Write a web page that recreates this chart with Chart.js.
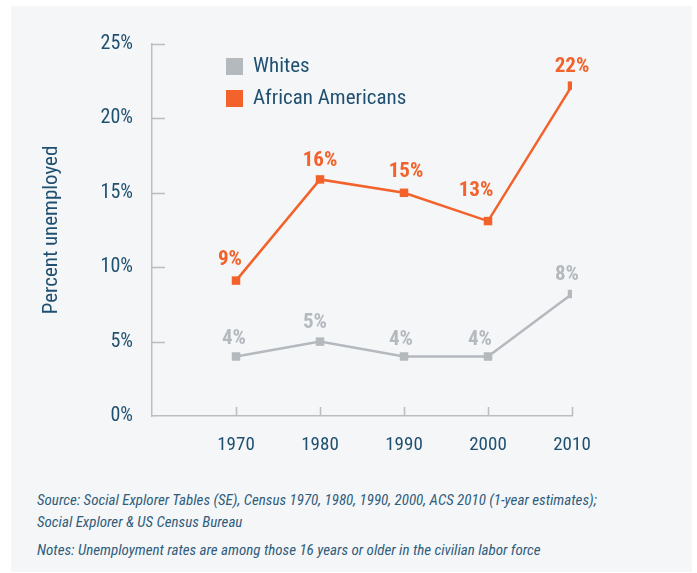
<!DOCTYPE html>
<html>
<head>
<meta charset="utf-8">
<script src="https://cdn.jsdelivr.net/npm/chart.js@4/dist/chart.umd.min.js"></script>
<style>
  html, body { margin: 0; padding: 0; background: #ffffff; width: 697px; height: 573px; overflow: hidden; }
  #panel { position: absolute; left: 11px; top: 6px; width: 681px; height: 566px; background: #f5f6f8; }
  #wrap { position: absolute; left: 0; top: 0; width: 697px; height: 470px; }
  .note {
    position: absolute; left: 37px; margin: 0;
    font-family: "Roboto Condensed", "Liberation Sans", sans-serif;
    font-style: italic; font-size: 15px; line-height: 22px; color: #2f5d7c;
    white-space: nowrap;
  }
</style>
</head>
<body>
<div id="panel"></div>
<div id="wrap"><canvas id="chart" width="697" height="470"></canvas></div>
<p class="note" style="top:489px">Source: Social Explorer Tables (SE), Census 1970, 1980, 1990, 2000, ACS 2010 (1-year estimates);<br>Social Explorer &amp; US Census Bureau</p>
<p class="note" style="top:539px">Notes: Unemployment rates are among those 16 years or older in the civilian labor force</p>
<script>
// данные
const years = [1970, 1980, 1990, 2000, 2010];
const whites = [4.0, 5.0, 4.0, 4.0, 8.2];
const africanAmericans = [9.1, 15.9, 15.0, 13.1, 22.2];
const whitesLabels = ['4%', '5%', '4%', '4%', '8%'];
const africanAmericansLabels = ['9%', '16%', '15%', '13%', '22%'];
const yTicks = [0, 5, 10, 15, 20, 25];

const FONT = '"Roboto Condensed", "Liberation Sans", sans-serif';
const BLUE = '#1f5070';
const ORANGE = '#f2622a';
const GRAY = '#b4b9be';
const AXIS = '#b9bec3';

// сдвиги подписей значений (dx, dy над точкой)
const labelShift = {
  0: [[-2, 18], [-5, 19], [-3, 17], [-8, 17], [-5, 19]],
  1: [[-6, 21], [0, 19], [2, 21], [-12, 30], [0, 19]]
};

const toPoints = (vals) => years.map((yr, i) => ({x: yr, y: vals[i]}));

// короткие засечки осей внутрь графика
const axisTicks = {
  id: 'axisTicks',
  afterDraw(chart) {
    const {ctx, scales: {x, y}} = chart;
    ctx.save();
    ctx.strokeStyle = AXIS;
    ctx.lineWidth = 1.5;
    ctx.beginPath();
    years.forEach(yr => {
      const px = Math.round(x.getPixelForValue(yr)) + 0.5;
      ctx.moveTo(px, y.bottom);
      ctx.lineTo(px, y.bottom - 9);
    });
    yTicks.slice(1).forEach(v => {
      const py = Math.round(y.getPixelForValue(v)) + 0.5;
      ctx.moveTo(x.left, py);
      ctx.lineTo(x.left + 13, py);
    });
    ctx.stroke();
    ctx.restore();
  }
};

// подписи значений над точками
const valueLabels = {
  id: 'valueLabels',
  afterDatasetsDraw(chart) {
    const {ctx} = chart;
    ctx.save();
    ctx.font = 'bold 21px ' + FONT;
    ctx.textAlign = 'center';
    ctx.textBaseline = 'middle';
    chart.data.datasets.forEach((ds, di) => {
      const meta = chart.getDatasetMeta(di);
      ctx.fillStyle = ds.borderColor;
      meta.data.forEach((pt, i) => {
        const [dx, dy] = labelShift[di][i];
        ctx.fillText(ds.valueText[i], pt.x + dx, pt.y - dy);
      });
    });
    ctx.restore();
  }
};

// легенда внутри области графика
const boxLegend = {
  id: 'boxLegend',
  afterDraw(chart) {
    const {ctx} = chart;
    ctx.save();
    ctx.font = '21px ' + FONT;
    ctx.textBaseline = 'middle';
    chart.data.datasets.forEach((ds, i) => {
      const top = 58 + i * 32;
      ctx.fillStyle = ds.borderColor;
      ctx.fillRect(226, top, 17, 17);
      ctx.fillStyle = BLUE;
      ctx.fillText(ds.label, 253, top + 9);
    });
    ctx.restore();
  }
};

new Chart(document.getElementById('chart'), {
  type: 'line',
  data: {
    datasets: [
      {
        label: 'Whites',
        data: toPoints(whites),
        valueText: whitesLabels,
        borderColor: GRAY,
        backgroundColor: GRAY,
        borderWidth: 2.5,
        pointStyle: 'rect',
        pointRadius: 6,
        pointBorderWidth: 0,
        tension: 0
      },
      {
        label: 'African Americans',
        data: toPoints(africanAmericans),
        valueText: africanAmericansLabels,
        borderColor: ORANGE,
        backgroundColor: ORANGE,
        borderWidth: 2.5,
        pointStyle: 'rect',
        pointRadius: 6,
        pointBorderWidth: 0,
        tension: 0
      }
    ]
  },
  options: {
    responsive: false,
    animation: false,
    layout: {padding: {top: 44, right: 125, left: 0, bottom: 0}},
    plugins: {legend: {display: false}, tooltip: {enabled: false}},
    scales: {
      x: {
        type: 'linear',
        min: 1960,
        max: 2010,
        afterFit: (s) => { s.height = 54; },
        afterBuildTicks: (s) => { s.ticks = years.map(v => ({value: v})); },
        grid: {display: false, drawTicks: false},
        border: {display: true, color: AXIS, width: 1.5},
        ticks: {
          padding: 18,
          color: BLUE,
          font: {family: FONT, size: 19},
          callback: (v) => String(v)
        }
      },
      y: {
        min: 0,
        max: 25,
        afterFit: (s) => { s.width = 152; },
        afterBuildTicks: (s) => { s.ticks = yTicks.map(v => ({value: v})); },
        grid: {display: false, drawTicks: false},
        border: {display: true, color: AXIS, width: 1.5},
        ticks: {
          padding: 19,
          color: BLUE,
          font: {family: FONT, size: 20},
          callback: (v) => v + '%'
        },
        title: {
          display: true,
          text: 'Percent unemployed',
          color: BLUE,
          font: {family: FONT, size: 21},
          padding: {top: 39, bottom: 0}
        }
      }
    }
  },
  plugins: [axisTicks, valueLabels, boxLegend]
});
</script>
</body>
</html>
